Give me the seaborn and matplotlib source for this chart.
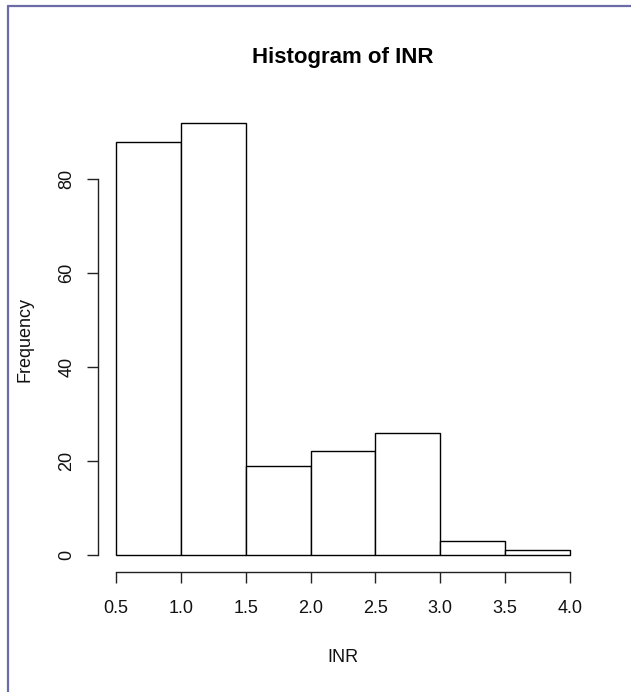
import matplotlib
matplotlib.use("Agg")
import matplotlib.pyplot as plt
from matplotlib import font_manager
from matplotlib.lines import Line2D
import seaborn as sns
import numpy as np

# ---- data ----
bin_edges = [0.5, 1.0, 1.5, 2.0, 2.5, 3.0, 3.5, 4.0]
counts = [88, 92, 19, 22, 26, 3, 1]
x_ticks = [0.5, 1.0, 1.5, 2.0, 2.5, 3.0, 3.5, 4.0]
x_tick_labels = ["0.5", "1.0", "1.5", "2.0", "2.5", "3.0", "3.5", "4.0"]
y_ticks = [0, 20, 40, 60, 80]
y_tick_labels = ["0", "20", "40", "60", "80"]
title = "Histogram of INR"
x_label = "INR"
y_label = "Frequency"

sns.set_style("white")
names = {f.name for f in font_manager.fontManager.ttflist}
narrow = "Liberation Sans Narrow" in names
if narrow:
    plt.rcParams["font.family"] = ["Liberation Sans Narrow", "Liberation Sans", "DejaVu Sans"]
    tick_fs, title_fs = 15, 18.5
else:
    plt.rcParams["font.family"] = ["Liberation Sans", "DejaVu Sans"]
    tick_fs, title_fs = 13, 16

W, H = 631, 692
fig = plt.figure(figsize=(W / 100, H / 100), dpi=100)
left, right, top, bottom = 98, 588, 105.5, 572
ax = fig.add_axes([left / W, 1 - bottom / H, (right - left) / W, (bottom - top) / H])

centers = [(bin_edges[i] + bin_edges[i + 1]) / 2 for i in range(len(counts))]
sns.histplot(x=centers, weights=counts, bins=bin_edges, ax=ax,
             color="white", edgecolor="black", linewidth=1.0, alpha=1)

xmin, xmax = bin_edges[0], bin_edges[-1]
dx = (xmax - xmin) * 0.04
ymax = max(counts)
dy = ymax * 0.04
ax.set_xlim(xmin - dx, xmax + dx)
ax.set_ylim(-dy, ymax + dy)

for s in ["top", "right"]:
    ax.spines[s].set_visible(False)
for s in ["left", "bottom"]:
    ax.spines[s].set_color("#222222")
    ax.spines[s].set_linewidth(1.0)
ax.spines["left"].set_bounds(y_ticks[0], y_ticks[-1])
ax.spines["bottom"].set_bounds(x_ticks[0], x_ticks[-1])

ax.set_xticks(x_ticks)
ax.set_xticklabels(x_tick_labels)
ax.set_yticks(y_ticks)
ax.set_yticklabels(y_tick_labels, rotation=90, va="center")
ax.tick_params(axis="both", direction="out", length=7.9, width=1.0, color="#222222",
               labelsize=tick_fs, labelcolor="#111111")
ax.tick_params(axis="x", pad=12, bottom=True)
ax.tick_params(axis="y", pad=8.5, left=True)

ax.set_xlabel(x_label, fontsize=tick_fs, color="#111111")
ax.set_ylabel(y_label, fontsize=tick_fs, color="#111111")
ax.xaxis.set_label_coords((343 - left) / (right - left), (bottom - 657) / (bottom - top))
ax.xaxis.label.set_verticalalignment("center")
ax.yaxis.set_label_coords((25 - left) / (right - left), (bottom - 339) / (bottom - top))
ax.yaxis.label.set_verticalalignment("center")

ax.text(0.5, (bottom - 57) / (bottom - top), title, transform=ax.transAxes,
        ha="center", va="center", fontsize=title_fs, fontweight="bold", color="black")

# outer frame (left and top edges)
frame_col = "#6b6ba8"
fig.add_artist(Line2D([8 / W, 8 / W], [0, 1 - 6 / H], transform=fig.transFigure,
                      color=frame_col, linewidth=1.6))
fig.add_artist(Line2D([8 / W, 1], [1 - 6 / H, 1 - 6 / H], transform=fig.transFigure,
                      color=frame_col, linewidth=1.6))

fig.savefig("out.png", dpi=100, facecolor="white")
